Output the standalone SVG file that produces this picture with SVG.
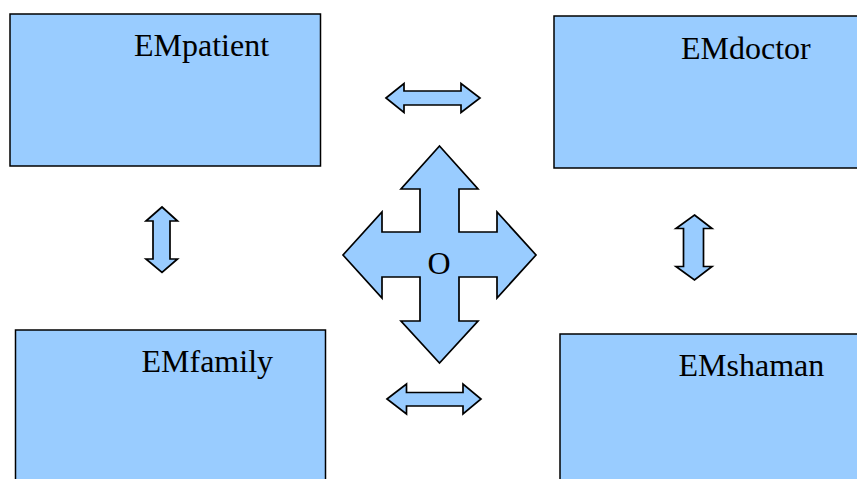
<svg xmlns="http://www.w3.org/2000/svg" width="857" height="479" viewBox="0 0 857 479">
<style>
.box{fill:#99CCFF;stroke:#000;stroke-width:1.5}
.arr{fill:#99CCFF;stroke:#000;stroke-width:1.7;stroke-linejoin:miter}
.lbl{font-family:"Liberation Serif","Times New Roman",serif;font-size:32px;fill:#000}
</style>
<rect width="857" height="479" fill="#fff"/>
<g id="EMpatient">
<rect class="box" x="10" y="14" width="310.5" height="152"/>
<text class="lbl" x="134" y="56">EMpatient</text>
</g>
<g id="EMdoctor">
<rect class="box" x="554" y="16" width="310" height="152"/>
<text class="lbl" x="681" y="58.5">EMdoctor</text>
</g>
<g id="EMfamily">
<rect class="box" x="15.5" y="330" width="310" height="160"/>
<text class="lbl" x="141.5" y="372">EMfamily</text>
</g>
<g id="EMshaman">
<rect class="box" x="560" y="334" width="310" height="160"/>
<text class="lbl" x="678.5" y="376">EMshaman</text>
</g>
<g id="O">
<polygon class="arr" points="439.5,146 478,189 459,189 459,232 497,232 497,212 536,255 497,298 497,277 459,277 459,321 478,321 439.5,363 401,321 420,321 420,277 382,277 382,298 343,255 382,212 382,232 420,232 420,189 401,189"/>
<text class="lbl" x="427.5" y="274">O</text>
</g>
<g id="connectors">
<polygon class="arr" points="386,98 404,83.5 404,91 461,91 461,83.5 480,98 461,112.5 461,105 404,105 404,112.5"/>
<polygon class="arr" points="387,399 406.5,384 406.5,392.5 463,392.5 463,384 481,399 463,414 463,406 406.5,406 406.5,414"/>
<polygon class="arr" points="162,207 177.5,221 170,221 170,259 177.5,259 162,272.5 146,259 153,259 153,221 146,221"/>
<polygon class="arr" points="694.5,215 712,228.5 703.5,228.5 703.5,266.5 712,266.5 694.5,280 676,266.5 683.5,266.5 683.5,228.5 676,228.5"/>
</g>
</svg>
